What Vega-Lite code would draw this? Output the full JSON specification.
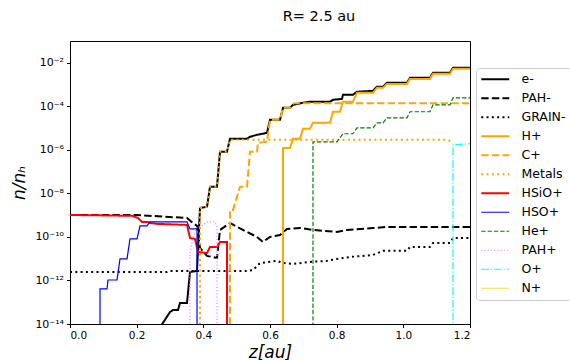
{
  "$schema": "https://vega.github.io/schema/vega-lite/v6.json",
  "width": 400,
  "height": 283,
  "autosize": {"type": "none"},
  "padding": {"left": 70, "top": 41, "right": 100, "bottom": 36},
  "background": "white",
  "config": {
    "font": "DejaVu Sans",
    "view": {"stroke": "black", "strokeWidth": 1},
    "axis": {"grid": false, "domainColor": "black", "tickColor": "black", "labelColor": "black", "labelFont": "DejaVu Sans", "labelFontSize": 10.5, "tickSize": 3.5, "labelPadding": 3, "titleFont": "DejaVu Sans", "titleFontWeight": "normal", "titleColor": "black"}
  },
  "title": {"text": "R= 2.5 au", "font": "DejaVu Sans", "fontSize": 14.5, "fontWeight": "normal", "color": "black", "anchor": "middle", "frame": "group", "dx": 49, "offset": 17},
  "data": {"values": [
    {"s":"e-","z":0.264,"n":5e-15},{"s":"e-","z":0.30,"n":3.55e-14},{"s":"e-","z":0.309,"n":4.37e-14},{"s":"e-","z":0.324,"n":4.37e-14},{"s":"e-","z":0.33,"n":9.33e-14},{"s":"e-","z":0.351,"n":9.33e-14},{"s":"e-","z":0.36,"n":2.45e-12},{"s":"e-","z":0.381,"n":2.75e-12},{"s":"e-","z":0.39,"n":2.14e-9},{"s":"e-","z":0.411,"n":2.40e-9},{"s":"e-","z":0.42,"n":2.0e-8},{"s":"e-","z":0.441,"n":2.0e-8},{"s":"e-","z":0.45,"n":8.13e-7},{"s":"e-","z":0.471,"n":8.13e-7},{"s":"e-","z":0.48,"n":3.24e-6},{"s":"e-","z":0.531,"n":3.24e-6},{"s":"e-","z":0.54,"n":3.98e-6},{"s":"e-","z":0.561,"n":4.90e-6},{"s":"e-","z":0.591,"n":6.03e-6},{"s":"e-","z":0.60,"n":2.40e-5},{"s":"e-","z":0.63,"n":2.40e-5},{"s":"e-","z":0.639,"n":8.51e-5},{"s":"e-","z":0.66,"n":8.51e-5},{"s":"e-","z":0.669,"n":1.17e-4},{"s":"e-","z":0.699,"n":1.45e-4},{"s":"e-","z":0.72,"n":1.62e-4},{"s":"e-","z":0.78,"n":1.62e-4},{"s":"e-","z":0.789,"n":2.0e-4},{"s":"e-","z":0.816,"n":2.19e-4},{"s":"e-","z":0.819,"n":3.39e-4},{"s":"e-","z":0.849,"n":3.39e-4},{"s":"e-","z":0.861,"n":4.68e-4},{"s":"e-","z":0.909,"n":5.13e-4},{"s":"e-","z":0.921,"n":7.94e-4},{"s":"e-","z":0.939,"n":7.94e-4},{"s":"e-","z":0.951,"n":1.20e-3},{"s":"e-","z":1.011,"n":1.20e-3},{"s":"e-","z":1.02,"n":2.04e-3},{"s":"e-","z":1.08,"n":2.04e-3},{"s":"e-","z":1.089,"n":3.47e-3},{"s":"e-","z":1.14,"n":3.47e-3},{"s":"e-","z":1.149,"n":5.89e-3},{"s":"e-","z":1.2,"n":5.89e-3},

    {"s":"PAH-","z":0,"n":1.02e-9},{"s":"PAH-","z":0.195,"n":1.02e-9},{"s":"PAH-","z":0.351,"n":7.41e-10},{"s":"PAH-","z":0.369,"n":4.37e-10},{"s":"PAH-","z":0.381,"n":3.24e-10},{"s":"PAH-","z":0.39,"n":3.09e-11},{"s":"PAH-","z":0.411,"n":1.35e-11},{"s":"PAH-","z":0.441,"n":1.07e-11},{"s":"PAH-","z":0.45,"n":2.09e-10},{"s":"PAH-","z":0.48,"n":4.37e-10},{"s":"PAH-","z":0.501,"n":2.88e-10},{"s":"PAH-","z":0.519,"n":2.09e-10},{"s":"PAH-","z":0.561,"n":1.0e-10},{"s":"PAH-","z":0.579,"n":5.89e-11},{"s":"PAH-","z":0.60,"n":1.0e-10},{"s":"PAH-","z":0.63,"n":1.23e-10},{"s":"PAH-","z":0.651,"n":2.34e-10},{"s":"PAH-","z":0.69,"n":2.57e-10},{"s":"PAH-","z":0.729,"n":2.09e-10},{"s":"PAH-","z":0.801,"n":1.70e-10},{"s":"PAH-","z":0.831,"n":2.09e-10},{"s":"PAH-","z":0.909,"n":2.57e-10},{"s":"PAH-","z":0.951,"n":2.88e-10},{"s":"PAH-","z":1.2,"n":2.88e-10},

    {"s":"GRAIN-","z":0,"n":2.45e-12},{"s":"GRAIN-","z":0.291,"n":2.45e-12},{"s":"GRAIN-","z":0.30,"n":2.75e-12},{"s":"GRAIN-","z":0.531,"n":2.75e-12},{"s":"GRAIN-","z":0.549,"n":3.02e-12},{"s":"GRAIN-","z":0.57,"n":6.31e-12},{"s":"GRAIN-","z":0.621,"n":7.94e-12},{"s":"GRAIN-","z":0.639,"n":6.31e-12},{"s":"GRAIN-","z":0.669,"n":5.75e-12},{"s":"GRAIN-","z":0.72,"n":7.08e-12},{"s":"GRAIN-","z":0.771,"n":7.94e-12},{"s":"GRAIN-","z":0.801,"n":9.77e-12},{"s":"GRAIN-","z":0.84,"n":1.20e-11},{"s":"GRAIN-","z":0.909,"n":1.48e-11},{"s":"GRAIN-","z":0.939,"n":2.29e-11},{"s":"GRAIN-","z":1.011,"n":2.29e-11},{"s":"GRAIN-","z":1.02,"n":3.47e-11},{"s":"GRAIN-","z":1.08,"n":3.47e-11},{"s":"GRAIN-","z":1.089,"n":5.25e-11},{"s":"GRAIN-","z":1.14,"n":5.25e-11},{"s":"GRAIN-","z":1.149,"n":8.91e-11},{"s":"GRAIN-","z":1.2,"n":8.91e-11},

    {"s":"H+","z":0.639,"n":1e-15},{"s":"H+","z":0.639,"n":1.23e-6},{"s":"H+","z":0.66,"n":1.23e-6},{"s":"H+","z":0.669,"n":3.24e-6},{"s":"H+","z":0.69,"n":3.24e-6},{"s":"H+","z":0.699,"n":9.33e-6},{"s":"H+","z":0.72,"n":9.33e-6},{"s":"H+","z":0.729,"n":1.74e-5},{"s":"H+","z":0.78,"n":1.74e-5},{"s":"H+","z":0.789,"n":5.62e-5},{"s":"H+","z":0.81,"n":5.62e-5},{"s":"H+","z":0.819,"n":1.62e-4},{"s":"H+","z":0.849,"n":1.62e-4},{"s":"H+","z":0.861,"n":4.17e-4},{"s":"H+","z":0.909,"n":4.17e-4},{"s":"H+","z":0.921,"n":7.08e-4},{"s":"H+","z":0.939,"n":7.08e-4},{"s":"H+","z":0.951,"n":1.07e-3},{"s":"H+","z":1.011,"n":1.07e-3},{"s":"H+","z":1.02,"n":1.82e-3},{"s":"H+","z":1.08,"n":1.82e-3},{"s":"H+","z":1.089,"n":3.09e-3},{"s":"H+","z":1.14,"n":3.09e-3},{"s":"H+","z":1.149,"n":5.25e-3},{"s":"H+","z":1.2,"n":5.25e-3},

    {"s":"C+","z":0.48,"n":1e-15},{"s":"C+","z":0.48,"n":1.74e-9},{"s":"C+","z":0.489,"n":1.74e-9},{"s":"C+","z":0.501,"n":6.92e-9},{"s":"C+","z":0.51,"n":2.0e-8},{"s":"C+","z":0.531,"n":2.0e-8},{"s":"C+","z":0.54,"n":8.13e-7},{"s":"C+","z":0.561,"n":8.13e-7},{"s":"C+","z":0.564,"n":2.09e-6},{"s":"C+","z":0.591,"n":2.34e-6},{"s":"C+","z":0.60,"n":2.40e-5},{"s":"C+","z":0.63,"n":2.40e-5},{"s":"C+","z":0.639,"n":8.51e-5},{"s":"C+","z":0.66,"n":8.51e-5},{"s":"C+","z":0.672,"n":1.40e-4},{"s":"C+","z":1.2,"n":1.40e-4},

    {"s":"Metals","z":0.39,"n":1e-15},{"s":"Metals","z":0.39,"n":2.14e-9},{"s":"Metals","z":0.411,"n":2.40e-9},{"s":"Metals","z":0.42,"n":2.0e-8},{"s":"Metals","z":0.441,"n":2.0e-8},{"s":"Metals","z":0.45,"n":8.13e-7},{"s":"Metals","z":0.471,"n":8.13e-7},{"s":"Metals","z":0.48,"n":2.88e-6},{"s":"Metals","z":1.131,"n":2.88e-6},{"s":"Metals","z":1.146,"n":2.34e-6},

    {"s":"HSiO+","z":0,"n":1.02e-9},{"s":"HSiO+","z":0.186,"n":9.33e-10},{"s":"HSiO+","z":0.204,"n":7.41e-10},{"s":"HSiO+","z":0.216,"n":4.90e-10},{"s":"HSiO+","z":0.234,"n":4.90e-10},{"s":"HSiO+","z":0.24,"n":4.37e-10},{"s":"HSiO+","z":0.261,"n":3.98e-10},{"s":"HSiO+","z":0.351,"n":3.55e-10},{"s":"HSiO+","z":0.36,"n":8.91e-11},{"s":"HSiO+","z":0.375,"n":8.13e-11},{"s":"HSiO+","z":0.384,"n":2.04e-11},{"s":"HSiO+","z":0.411,"n":1.82e-11},{"s":"HSiO+","z":0.42,"n":3.47e-11},{"s":"HSiO+","z":0.441,"n":3.47e-11},{"s":"HSiO+","z":0.45,"n":5.89e-11},{"s":"HSiO+","z":0.471,"n":5.89e-11},{"s":"HSiO+","z":0.4711,"n":1e-15},

    {"s":"HSO+","z":0.09,"n":1e-15},{"s":"HSO+","z":0.09,"n":4.07e-13},{"s":"HSO+","z":0.111,"n":4.07e-13},{"s":"HSO+","z":0.114,"n":1.05e-12},{"s":"HSO+","z":0.141,"n":1.05e-12},{"s":"HSO+","z":0.15,"n":9.77e-12},{"s":"HSO+","z":0.171,"n":9.77e-12},{"s":"HSO+","z":0.18,"n":8.13e-11},{"s":"HSO+","z":0.201,"n":8.13e-11},{"s":"HSO+","z":0.21,"n":3.24e-10},{"s":"HSO+","z":0.231,"n":3.24e-10},{"s":"HSO+","z":0.24,"n":4.90e-10},{"s":"HSO+","z":0.351,"n":4.90e-10},{"s":"HSO+","z":0.36,"n":2.34e-10},{"s":"HSO+","z":0.381,"n":2.34e-10},{"s":"HSO+","z":0.3811,"n":1e-15},

    {"s":"He+","z":0.729,"n":1e-15},{"s":"He+","z":0.729,"n":2.34e-6},{"s":"He+","z":0.801,"n":2.34e-6},{"s":"He+","z":0.819,"n":5.50e-6},{"s":"He+","z":0.849,"n":5.50e-6},{"s":"He+","z":0.861,"n":1.02e-5},{"s":"He+","z":0.909,"n":1.02e-5},{"s":"He+","z":0.921,"n":1.74e-5},{"s":"He+","z":0.939,"n":1.74e-5},{"s":"He+","z":0.951,"n":2.95e-5},{"s":"He+","z":1.011,"n":2.95e-5},{"s":"He+","z":1.02,"n":5.62e-5},{"s":"He+","z":1.08,"n":5.62e-5},{"s":"He+","z":1.089,"n":1.17e-4},{"s":"He+","z":1.14,"n":1.17e-4},{"s":"He+","z":1.149,"n":2.45e-4},{"s":"He+","z":1.2,"n":2.45e-4},

    {"s":"PAH+","z":0.36,"n":1e-15},{"s":"PAH+","z":0.36,"n":1.82e-11},{"s":"PAH+","z":0.369,"n":8.91e-11},{"s":"PAH+","z":0.381,"n":2.88e-10},{"s":"PAH+","z":0.39,"n":2.88e-10},{"s":"PAH+","z":0.411,"n":4.90e-10},{"s":"PAH+","z":0.435,"n":4.90e-10},{"s":"PAH+","z":0.441,"n":2.88e-10},{"s":"PAH+","z":0.4411,"n":1e-15},

    {"s":"O+","z":1.149,"n":1e-15},{"s":"O+","z":1.149,"n":1.70e-6},{"s":"O+","z":1.2,"n":1.91e-6}
  ]},
  "mark": {"type": "line", "clip": true, "interpolate": "linear"},
  "encoding": {
    "x": {"field": "z", "type": "quantitative", "scale": {"domain": [0, 1.2], "nice": false, "zero": false},
      "axis": {"values": [0, 0.2, 0.4, 0.6, 0.8, 1.0, 1.2], "format": ".1f", "title": "z[au]", "titleFontSize": 17, "titleFontStyle": "italic", "titlePadding": 3}},
    "y": {"field": "n", "type": "quantitative", "scale": {"type": "log", "domain": [1e-14, 0.1], "nice": false},
      "axis": {"values": [1e-2, 1e-4, 1e-6, 1e-8, 1e-10, 1e-12, 1e-14], "title": "n/nₕ", "titleFontSize": 17, "titleFontStyle": "italic", "titlePadding": 6, "labelFontSize": 11,
        "labelExpr": "'10' + (round(log(datum.value)/LN10) == -2 ? '⁻²' : round(log(datum.value)/LN10) == -4 ? '⁻⁴' : round(log(datum.value)/LN10) == -6 ? '⁻⁶' : round(log(datum.value)/LN10) == -8 ? '⁻⁸' : round(log(datum.value)/LN10) == -10 ? '⁻¹⁰' : round(log(datum.value)/LN10) == -12 ? '⁻¹²' : '⁻¹⁴')"}},
    "color": {"field": "s", "type": "nominal",
      "scale": {"domain": ["e-","PAH-","GRAIN-","H+","C+","Metals","HSiO+","HSO+","He+","PAH+","O+","N+"],
        "range": ["#000000","#000000","#000000","#ffa500","#ffa500","#ffa500","#ff0000","#0000ff","#008000","#ee82ee","#00ffff","#ffd24d"]},
      "legend": {"title": null, "orient": "none", "legendX": 406, "legendY": 27, "symbolType": "M-3,0H3", "symbolSize": 87, "symbolOffset": 8, "labelOffset": 20, "labelFontSize": 12.5, "labelFont": "DejaVu Sans", "labelColor": "black", "strokeColor": "#cccccc", "cornerRadius": 3, "padding": 5, "fillColor": "white", "rowPadding": 6}},
    "strokeDash": {"field": "s", "type": "nominal",
      "scale": {"domain": ["e-","PAH-","GRAIN-","H+","C+","Metals","HSiO+","HSO+","He+","PAH+","O+","N+"],
        "range": [[1,0],[7.4,3.2],[2,3.3],[1,0],[7.4,3.2],[2,3.3],[1,0],[1,0],[4.4,1.9],[1.2,2],[7.7,1.9,1.2,1.9],[1,0]]}},
    "strokeWidth": {"field": "s", "type": "ordinal", "sort": ["e-","PAH-","GRAIN-","H+","C+","Metals","HSiO+","HSO+","He+","PAH+","O+","N+"],
      "scale": {"type": "ordinal", "domain": ["e-","PAH-","GRAIN-","H+","C+","Metals","HSiO+","HSO+","He+","PAH+","O+","N+"],
        "range": [2,2,2,2,2,2,2,1.2,1.2,1.2,1.2,1.2]}}
  }
}
